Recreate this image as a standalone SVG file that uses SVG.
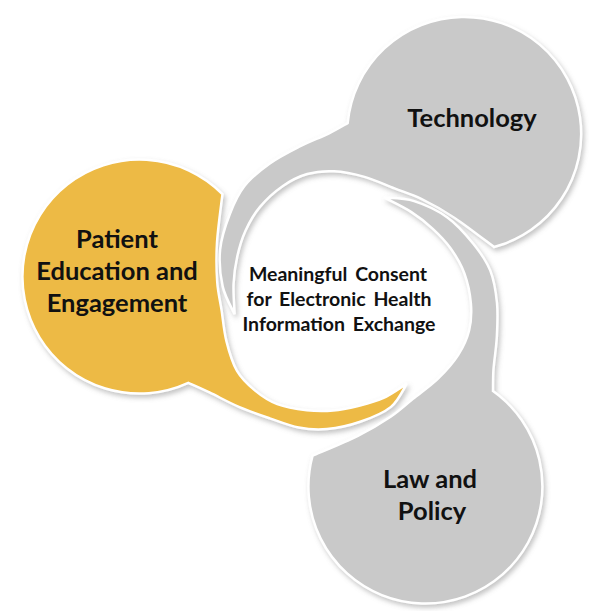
<svg xmlns="http://www.w3.org/2000/svg" width="589" height="611" viewBox="0 0 589 611">
<style>
.gray{fill:#C9C9C9;stroke:#ffffff;stroke-width:2.5}
.gold{fill:#EDBA45;stroke:#ffffff;stroke-width:2.5}
.lbl{font-family:Lato,"Open Sans","Liberation Sans",sans-serif;font-weight:700;font-size:25.5px;fill:#111111;text-anchor:middle}
.ctr{font-family:Lato,"Open Sans","Liberation Sans",sans-serif;font-weight:700;font-size:19.5px;fill:#111111;text-anchor:middle;word-spacing:3px}
</style>
<defs>
<filter id="sh" x="-10%" y="-10%" width="130%" height="130%">
<feDropShadow dx="2" dy="3" stdDeviation="2.5" flood-color="#7a7a7a" flood-opacity="0.45"/>
</filter>
<path id="bubble" d="M493,391 A117,117 0 1 1 312.5,455.8 C319.98,452.53 344.38,442.7 357.4,436.2 C370.42,429.7 381.33,423.02 390.6,416.8 C399.87,410.58 405.1,405.25 413,398.9 C420.9,392.55 430.48,386 438,378.7 C445.52,371.4 452.92,363.13 458.1,355.1 C463.28,347.07 466.97,339.1 469.1,330.5 C471.23,321.9 471.7,313.05 470.9,303.5 C470.1,293.95 467.63,282.33 464.3,273.2 C460.97,264.07 456.15,256.1 450.9,248.7 C445.65,241.3 439.45,234.93 432.8,228.8 C426.15,222.67 419.13,217.12 411,211.9 C402.87,206.68 388.5,199.9 384,197.5 C389.02,198.1 403.53,197.78 414.1,201.1 C424.67,204.42 437.53,210.3 447.4,217.4 C457.27,224.5 466.17,234.87 473.3,243.7 C480.43,252.53 486.25,260.52 490.2,270.4 C494.15,280.28 495.9,291.85 497,303 C498.1,314.15 497.38,326.27 496.8,337.3 C496.22,348.33 494.13,360.25 493.5,369.2 C492.87,378.15 493.08,387.37 493,391 Z"/>
<path id="bubbleY" d="M493,391 A117,117 0 1 1 312.5,455.8 C319.98,452.53 344.38,442.7 357.4,436.2 C370.42,429.7 381.33,423.02 390.6,416.8 C399.87,410.58 405.1,405.25 413,398.9 C420.9,392.55 430.48,386 438,378.7 C445.52,371.4 453.4,363.27 458.1,355.1 C462.8,346.93 464.73,338.33 466.2,329.7 C467.67,321.07 468.37,312.47 466.9,303.3 C465.43,294.13 461.13,283.3 457.4,274.7 C453.67,266.1 449.38,258.73 444.5,251.7 C439.62,244.67 434.03,238.67 428.1,232.5 C422.17,226.33 416.18,219.88 408.9,214.7 C401.62,209.52 388.48,203.62 384.4,201.4 C389.07,201.75 403.02,199.95 412.4,203.5 C421.78,207.05 432.17,215.32 440.7,222.7 C449.23,230.08 457.63,239.4 463.6,247.8 C469.57,256.2 473.27,263.95 476.5,273.1 C479.73,282.25 481,292.33 483,302.7 C485,313.07 487.22,324.43 488.5,335.3 C489.78,346.17 489.95,358.62 490.7,367.9 C491.45,377.18 492.62,387.15 493,391 Z"/>
</defs>
<rect width="589" height="611" fill="#ffffff"/>
<g id="connectors"/>
<g id="node-patient">
<g filter="url(#sh)"><use href="#bubbleY" class="gold" transform="rotate(120 343 299)"/></g>
<text class="lbl" x="117" y="248">Patient</text>
<text class="lbl" x="117" y="280">Education and</text>
<text class="lbl" x="117" y="312">Engagement</text>
</g>
<g id="node-technology">
<g filter="url(#sh)"><use href="#bubble" class="gray" transform="rotate(-120 343 299)"/></g>
<text class="lbl" x="472" y="127">Technology</text>
</g>
<g id="node-law">
<g filter="url(#sh)"><use href="#bubble" class="gray"/></g>
<text class="lbl" x="430" y="488">Law and</text>
<text class="lbl" x="432" y="520">Policy</text>
</g>
<g id="node-center">
<text class="ctr" x="338" y="281">Meaningful Consent</text>
<text class="ctr" x="339" y="306">for Electronic Health</text>
<text class="ctr" x="339" y="331">Information Exchange</text>
</g>
</svg>
